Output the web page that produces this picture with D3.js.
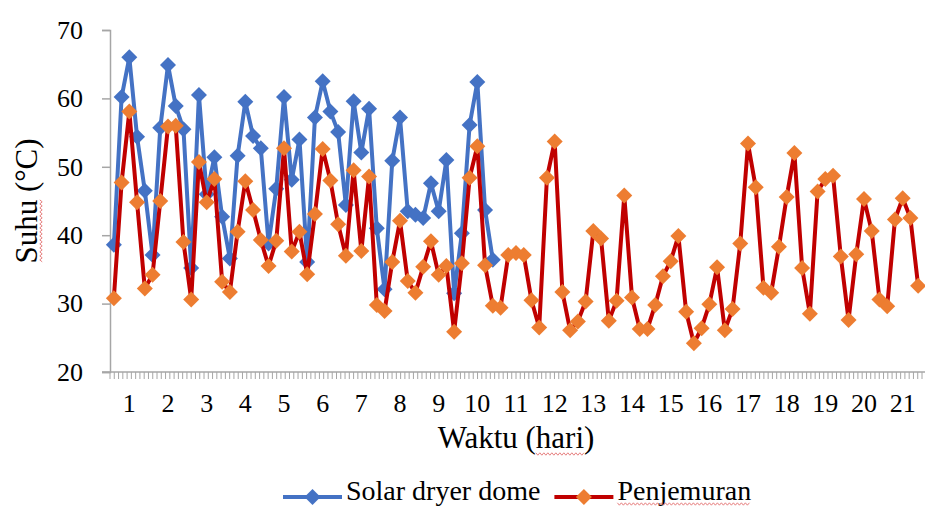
<!DOCTYPE html>
<html>
<head>
<meta charset="utf-8">
<script src="https://cdn.jsdelivr.net/npm/d3@7"></script>
<style>
  body { margin: 0; background: #fff; }
  svg text { font-family: "Liberation Serif", Tinos, "Times New Roman", Times, "DejaVu Serif", serif; }
</style>
</head>
<body>
<div id="chart"></div>
<script>
// five readings per day, day label on the middle reading
var dayLabels = d3.range(1, 22);
var perDay = 5;

var solarDryer = [
    38.6, 60.2, 66.0, 54.4, 46.5, 37.1, 55.7, 64.9, 58.9, 55.5,
    35.2, 60.5, 46.0, 51.4, 42.7, 36.6, 51.6, 59.5, 54.5, 52.7,
    38.8, 46.8, 60.2, 48.1, 54.0, 36.1, 57.2, 62.5, 58.1, 55.1,
    44.4, 59.6, 52.1, 58.5, 41.0, 32.1, 50.9, 57.2, 43.5, 43.0,
    42.5, 47.6, 43.5, 51.0, 31.5, 40.3, 56.1, 62.4, 43.7, 36.4
];

var penjemuran = [
    30.8, 47.7, 58.1, 44.8, 32.2, 34.2, 45.0, 55.9, 56.0, 39.0,
    30.6, 50.7, 44.8, 48.2, 33.2, 31.7, 40.5, 47.9, 43.7, 39.3,
    35.5, 39.2, 52.7, 37.6, 40.5, 34.3, 43.1, 52.6, 48.0, 41.6,
    37.0, 49.5, 37.7, 48.6, 29.8, 28.9, 36.1, 42.1, 33.3, 31.6,
    35.4, 39.1, 34.2, 35.5, 25.9, 35.9, 48.4, 53.0, 35.6, 29.7,
    29.4, 37.1, 37.4, 37.1, 30.5, 26.5, 48.4, 53.7, 31.7, 26.1,
    27.4, 30.3, 40.6, 39.5, 27.5, 30.4, 45.8, 30.9, 26.3, 26.3,
    29.8, 34.0, 36.2, 39.9, 28.8, 24.2, 26.4, 29.9, 35.3, 26.1,
    29.2, 38.8, 53.4, 47.0, 32.3, 31.6, 38.3, 45.6, 52.0, 35.2,
    28.5, 46.4, 48.2, 48.7, 36.9, 27.6, 37.2, 45.3, 40.6, 30.6,
    29.6, 42.3, 45.4, 42.5, 32.6
];

var yTicks = [20, 30, 40, 50, 60, 70];

var series = [
    { name: "Solar dryer dome", values: solarDryer, line: "#4472C4", marker: "#4472C4" },
    { name: "Penjemuran", values: penjemuran, line: "#C00000", marker: "#ED7D31" }
];

var width = 925, height = 506;
var margin = { top: 30, right: 3, bottom: 134, left: 110 };
var axisColor = "#a6a6a6";

var svg = d3.select("#chart").append("svg")
    .attr("width", width)
    .attr("height", height);

var categories = d3.range(dayLabels.length * perDay);

var x = d3.scaleBand()
    .domain(categories)
    .range([margin.left, width - margin.right]);

var y = d3.scaleLinear()
    .domain([20, 70])
    .range([height - margin.bottom, margin.top]);

function cx(i) { return x(i) + x.bandwidth() / 2; }

function diamond(r) {
    return "M0," + (-r) + "L" + r + ",0L0," + r + "L" + (-r) + ",0Z";
}

// y axis
var yAxis = svg.append("g")
    .attr("transform", "translate(" + margin.left + ",0)")
    .call(d3.axisLeft(y).tickValues(yTicks).tickSize(8).tickPadding(19));
yAxis.attr("font-family", null);
yAxis.select(".domain").attr("stroke", axisColor).attr("stroke-width", 1.5);
yAxis.selectAll(".tick line").attr("stroke", axisColor).attr("stroke-width", 1.5);
yAxis.selectAll(".tick text")
    .attr("fill", "#000")
    .style("font-size", "26px");

// x axis : minor ticks + day labels
var xBase = y(20);
var minorCount = 190;
var xm = d3.scaleLinear().domain([0, minorCount]).range(x.range());

var xAxis = svg.append("g");
xAxis.append("line")
    .attr("x1", margin.left - 8)
    .attr("x2", width)
    .attr("y1", xBase)
    .attr("y2", xBase)
    .attr("stroke", axisColor)
    .attr("stroke-width", 1.5);
xAxis.selectAll(".minor")
    .data(d3.range(minorCount + 1))
    .join("line")
    .attr("class", "minor")
    .attr("x1", function(d) { return xm(d); })
    .attr("x2", function(d) { return xm(d); })
    .attr("y1", xBase)
    .attr("y2", xBase + 7)
    .attr("stroke", axisColor)
    .attr("stroke-width", 1);
xAxis.selectAll(".daylabel")
    .data(dayLabels)
    .join("text")
    .attr("class", "daylabel")
    .attr("x", function(d) { return cx((d - 1) * perDay + 2); })
    .attr("y", xBase + 40)
    .attr("text-anchor", "middle")
    .style("font-size", "26px")
    .text(function(d) { return d; });

// lines and markers
var line = d3.line()
    .x(function(d, i) { return cx(i); })
    .y(function(d) { return y(d); });

series.forEach(function(s) {
    svg.append("path")
        .datum(s.values)
        .attr("fill", "none")
        .attr("stroke", s.line)
        .attr("stroke-width", 4)
        .attr("stroke-linejoin", "round")
        .attr("d", line);

    svg.append("g").selectAll("path")
        .data(s.values)
        .join("path")
        .attr("transform", function(d, i) { return "translate(" + cx(i) + "," + y(d) + ")"; })
        .attr("d", diamond(8))
        .attr("fill", s.marker);
});

// wavy spell-check underline
function squiggle(x0, x1, yy, vertical) {
    var p = d3.path(), step = 2, k = 0;
    for (var t = x0; t <= x1; t += step, k++) {
        var off = (k % 2 ? 1.2 : -1.2);
        if (vertical) {
            if (k === 0) p.moveTo(yy + off, t); else p.lineTo(yy + off, t);
        } else {
            if (k === 0) p.moveTo(t, yy + off); else p.lineTo(t, yy + off);
        }
    }
    svg.append("path").attr("d", p.toString())
        .attr("fill", "none").attr("stroke", "#e06060").attr("stroke-width", 0.8);
}

// axis titles
var plotMidX = (x.range()[0] + x.range()[1]) / 2;
var xTitle = svg.append("text")
    .attr("x", plotMidX)
    .attr("y", xBase + 76)
    .attr("text-anchor", "middle")
    .style("font-size", "31px")
    .text("Waktu (hari)");
var xt = xTitle.node();
var hs = xt.getStartPositionOfChar(7);
squiggle(hs.x, hs.x + xt.getSubStringLength(7, 4), xBase + 82, false);

var plotMidY = (y.range()[0] + y.range()[1]) / 2;
var yTitle = svg.append("text")
    .attr("transform", "translate(37," + plotMidY + ") rotate(-90)")
    .attr("text-anchor", "middle")
    .style("font-size", "31px")
    .text("Suhu (°C)");
var yt = yTitle.node();
var suhuLen = yt.getSubStringLength(0, 4);
var yStart = plotMidY + yt.getComputedTextLength() / 2;
squiggle(yStart - suhuLen, yStart, 41, true);

// legend
var legend = svg.append("g");
var lx = 283, ly = 497;
series.forEach(function(s) {
    legend.append("line")
        .attr("x1", lx).attr("x2", lx + 59)
        .attr("y1", ly).attr("y2", ly)
        .attr("stroke", s.line).attr("stroke-width", 4);
    legend.append("path")
        .attr("transform", "translate(" + (lx + 29.5) + "," + ly + ")")
        .attr("d", diamond(8))
        .attr("fill", s.marker);
    var t = legend.append("text")
        .attr("x", lx + 63)
        .attr("y", ly + 3)
        .style("font-size", "28px")
        .text(s.name);
    var w = t.node().getComputedTextLength();
    if (s.name === "Penjemuran") squiggle(lx + 63, lx + 63 + w, ly + 7, false);
    lx = lx + 63 + w + 14;
});
</script>
</body>
</html>
